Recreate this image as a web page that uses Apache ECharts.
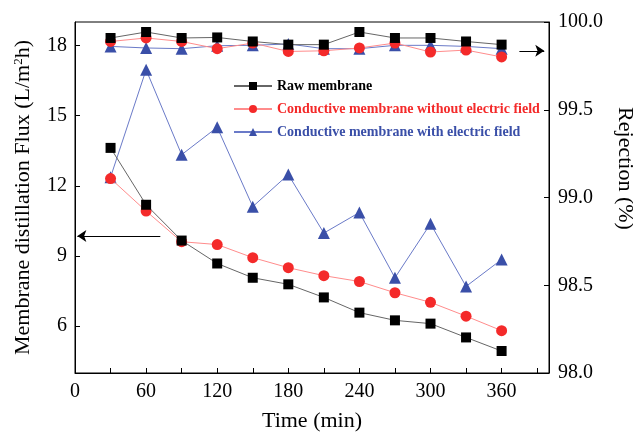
<!DOCTYPE html>
<html><head><meta charset="utf-8">
<script src="https://cdn.jsdelivr.net/npm/echarts@6/dist/echarts.min.js"></script>
<style>html,body{margin:0;padding:0;background:#fff}#c{width:633px;height:438px}</style>
</head><body><div id="c"></div>
<script>
const times = [30,60,90,120,150,180,210,240,270,300,330,360];
const xTicks = [0,60,120,180,240,300,360];
const fluxTicks = [6,9,12,15,18];
const rejTicks = [98.0,98.5,99.0,99.5,100.0];
const names = ['Raw membrane','Conductive membrane without electric field','Conductive membrane with electric field'];
const fluxRaw = [13.62,11.19,9.66,8.68,8.07,7.79,7.23,6.58,6.25,6.11,5.52,4.94];
const fluxNoField = [12.31,10.92,9.61,9.49,8.93,8.50,8.16,7.91,7.43,7.02,6.43,5.81];
const fluxField = [12.37,16.96,13.33,14.50,11.11,12.48,9.98,10.86,8.07,10.38,7.70,8.85];
const rejRaw = [99.909,99.943,99.909,99.912,99.889,99.871,99.871,99.943,99.909,99.909,99.889,99.871];
const rejNoField = [99.889,99.909,99.889,99.848,99.880,99.832,99.836,99.852,99.880,99.829,99.840,99.801];
const rejField = [99.861,99.852,99.848,99.865,99.867,99.875,99.848,99.848,99.867,99.867,99.861,99.848];
const leftArrow = [[72,9.85],[2,9.85]];
const rightArrow = [[375,99.836],[396,99.836]];

const font = 'Liberation Serif';
const styles = [
  {mc:'#000000', lc:'#666666', sym:'rect', size:10},
  {mc:'#f42a2a', lc:'#ff8c8c', sym:'circle', size:11},
  {mc:'#3a4fa8', lc:'#6a7ac8', sym:'triangle', size:12}
];
function pair(arr){ return times.map((t,i)=>[t,arr[i]]); }
function mk(i, data, yIdx){
  const s = styles[i];
  return {name:names[i], type:'line', xAxisIndex:0, yAxisIndex:yIdx, data:pair(data),
    symbol:s.sym, symbolSize:s.size, showSymbol:true,
    itemStyle:{color:s.mc}, lineStyle:{color:s.lc, width:1}, z: 10-i, animation:false};
}
const series = [
  mk(2, fluxField, 0), mk(1, fluxNoField, 0), mk(0, fluxRaw, 0),
  mk(2, rejField, 1), mk(1, rejNoField, 1), mk(0, rejRaw, 1)
];
function arrowLine(pts){
  return {silent:true, symbol:['none','arrow'], symbolSize:9, label:{show:false},
    lineStyle:{color:'#000', width:1, type:'solid'}, itemStyle:{color:'#000'}, animation:false,
    emphasis:{disabled:true},
    data:[[{coord:pts[0], symbol:'none'},{coord:pts[1], symbol:'arrow', symbolSize:9}]]};
}
series[2].markLine = arrowLine(leftArrow);
series[5].markLine = arrowLine(rightArrow);

const chart = echarts.init(document.getElementById('c'), null, {renderer:'canvas'});
chart.setOption({
  animation:false,
  backgroundColor:'#fff',
  textStyle:{fontFamily:font},
  grid:{left:75, right:84, top:22, bottom:65, containLabel:false, outerBoundsMode:'none',
    show:true, borderColor:'#000', borderWidth:1, backgroundColor:'transparent'},
  legend:{orient:'vertical', left:228, top:74, itemWidth:38, itemHeight:10, itemGap:9,
    textStyle:{fontFamily:font, fontSize:14, fontWeight:'bold'},
    data:names.map((n,i)=>({name:n, textStyle:{color:styles[i].mc}}))},
  xAxis:{type:'value', min:0, max:400, interval:30,
    name:'Time (min)', nameLocation:'middle', nameGap:37,
    nameTextStyle:{fontFamily:font, fontSize:22, color:'#000'},
    axisLine:{lineStyle:{color:'#000', width:1}},
    axisTick:{inside:true, length:5, lineStyle:{color:'#000'}},
    axisLabel:{customValues:xTicks, fontFamily:font, fontSize:20, color:'#000', margin:9},
    splitLine:{show:false}},
  yAxis:[
    {type:'value', min:4, max:19, position:'left',
      name:'{a|Membrane distillation Flux (L/m}{s|2}{a|h)}', nameLocation:'middle', nameGap:40, nameRotate:90,
      nameTextStyle:{rich:{a:{fontFamily:font, fontSize:22, color:'#000'}, s:{fontFamily:font, fontSize:13, color:'#000', verticalAlign:'bottom', padding:[0,0,10,0]}}},
      axisLine:{show:true, lineStyle:{color:'#000', width:1}},
      axisTick:{show:true, inside:true, length:5, customValues:fluxTicks, lineStyle:{color:'#000'}},
      axisLabel:{customValues:fluxTicks, fontFamily:font, fontSize:20, color:'#000', margin:8},
      splitLine:{show:false}},
    {type:'value', min:98, max:100, interval:0.5, position:'right',
      name:'Rejection (%)', nameLocation:'middle', nameGap:55, nameRotate:-90,
      nameTextStyle:{fontFamily:font, fontSize:22, color:'#000', padding:[0,58,0,0]},
      axisLine:{show:true, lineStyle:{color:'#000', width:1}},
      axisTick:{show:true, inside:true, length:5, lineStyle:{color:'#000'}},
      axisLabel:{formatter:v=>v.toFixed(1), fontFamily:font, fontSize:20, color:'#000', margin:9},
      splitLine:{show:false}}
  ],
  series:series
});
</script></body></html>
